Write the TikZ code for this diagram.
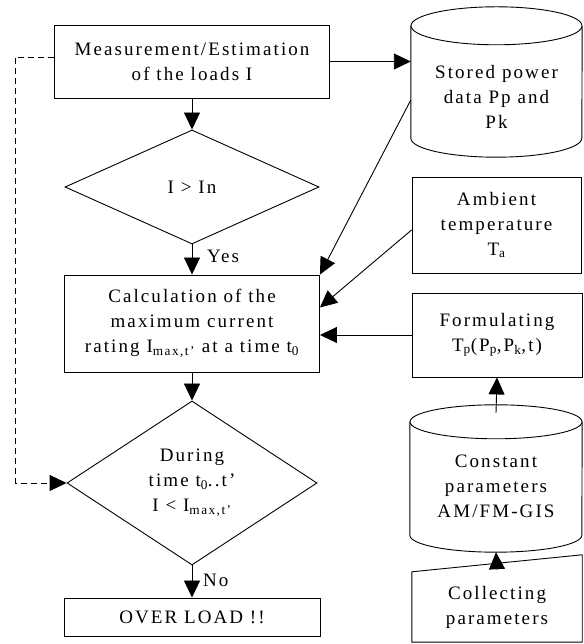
\documentclass[tikz,border=0pt]{standalone}
\usepackage{fontspec}
\setmainfont{Liberation Serif}[LetterSpace=11]
\usepackage{tikz}
\usetikzlibrary{calc,shapes.geometric,arrows.meta}

\tikzset{
  flow/.style={line width=0.9pt,-{Triangle[length=17pt,width=16pt]}},
  block/.style={draw,line width=0.9pt,rectangle,align=center,inner sep=0pt},
  decision/.style={draw,line width=0.9pt,diamond,align=center,inner sep=0pt},
  txt/.style={align=center,inner sep=0pt}
}

% cylinder drawn round node #1, half width #2, cap half height #3
\newcommand{\dbshape}[3]{%
  \draw[line width=0.9pt] ($(#1.north west)+(0,-#3)$) -- ($(#1.south west)+(0,#3)$)
    arc[start angle=180,end angle=360,x radius=#2,y radius=#3]
    -- ($(#1.north east)+(0,-#3)$);
  \draw[line width=0.9pt] ($(#1.north)+(0,-#3)$) ellipse[x radius=#2,y radius=#3];
}

\begin{document}
\begin{tikzpicture}[x=1pt,y=1pt,font=\fontsize{19}{25}\selectfont]
  \useasboundingbox (0,0) rectangle (583,644);

  % Main flow on the left
  \node[block,minimum width=275pt,minimum height=73pt] (meas) at (192,582.5) {Measurement/Estimation\\of the loads I};
  \node[decision,minimum width=254pt,minimum height=114pt,aspect=2.2] (test) at (192,457) {I > In};
  \node[block,minimum width=255pt,minimum height=97pt] (calc) at (192,320.5) {Calculation of the\\maximum current\\rating I\textsubscript{max,t’} at a time t\textsubscript{0}};
  \node[decision,minimum width=250pt,minimum height=164pt,aspect=1.5] (during) at (192,161) {During\\time t\textsubscript{0}..t’\\I < I\textsubscript{max,t’}};
  \node[block,minimum width=256pt,minimum height=38pt] (over) at (192,27) {OVER LOAD !!};

  % Labels on the branches
  \node[txt,anchor=west] (yes) at ([xshift=15pt,yshift=-12pt]test.south) {Yes};
  \node[txt,anchor=west] (no) at ([xshift=11pt,yshift=-15pt]during.south) {No};

  % Data sources on the right
  \node[inner sep=0pt,minimum width=171pt,minimum height=150pt] (store) at (496.5,562) {};
  \node[txt] (storetxt) at ([yshift=-15pt]store.center) {Stored power\\data Pp and\\Pk};
  \node[block,minimum width=169pt,minimum height=96pt] (amb) at (496.5,419) {Ambient\\temperature\\T\textsubscript{a}};
  \node[block,minimum width=170pt,minimum height=84pt] (form) at (497,309) {Formulating\\T\textsubscript{p}(P\textsubscript{p},P\textsubscript{k},t)};
  \node[inner sep=0pt,minimum width=172pt,minimum height=147pt] (const) at (496,165.5) {};
  \node[txt] (consttxt) at ([yshift=-8pt]const.center) {Constant\\parameters\\AM/FM-GIS};
  \node[txt,minimum width=170pt,minimum height=70pt] (coll) at (497,37) {Collecting\\parameters};

  % Draw cylinders and the input shape
  \dbshape{store}{85.5pt}{19pt}
  \dbshape{const}{86pt}{17pt}
  \draw[line width=0.9pt] (coll.south west) -- (coll.north west) -- ([yshift=17pt]coll.north east) -- (coll.south east) -- cycle;

  % Draw arrows
  \draw[flow] (meas.south) -- (test.north);
  \draw[flow] (test.south) -- (calc.north);
  \draw[flow] (calc.south) -- (during.north);
  \draw[flow] (during.south) -- (over.north);
  \draw[flow] (meas.east) -- (meas.east -| store.west);
  \draw[flow] ([yshift=-18pt]store.west) -- (calc.north east);
  \draw[flow] ([yshift=-5pt]amb.west) -- ([yshift=16pt]calc.east);
  \draw[flow] (form.west) -- (form.west -| calc.east);
  \draw[flow] ([yshift=-8pt]const.north) -- (form.south);
  \draw[flow] ([yshift=2pt]coll.north) -- (const.south);
  \draw[flow,dash pattern=on 6pt off 4pt] ([yshift=4pt]meas.west) -- ++(-39,0) |- (during.west);

\end{tikzpicture}
\end{document}
